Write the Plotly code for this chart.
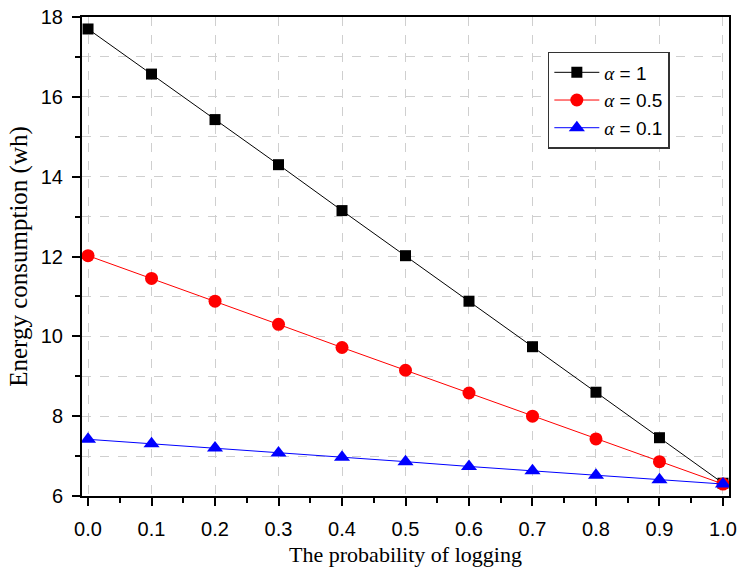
import plotly.graph_objects as go

prob = [0.0, 0.1, 0.2, 0.3, 0.4, 0.5, 0.6, 0.7, 0.8, 0.9, 1.0]
alpha_1 = [17.70, 16.57, 15.43, 14.30, 13.15, 12.02, 10.88, 9.74, 8.60, 7.46, 6.32]
alpha_05 = [12.02, 11.45, 10.88, 10.30, 9.72, 9.15, 8.58, 8.00, 7.43, 6.86, 6.30]
alpha_01 = [7.42, 7.31, 7.20, 7.08, 6.97, 6.86, 6.74, 6.63, 6.52, 6.41, 6.30]
x_ticks = [0.0, 0.1, 0.2, 0.3, 0.4, 0.5, 0.6, 0.7, 0.8, 0.9, 1.0]
x_tick_labels = ["0.0", "0.1", "0.2", "0.3", "0.4", "0.5", "0.6", "0.7", "0.8", "0.9", "1.0"]
series_labels = ["1", "0.5", "0.1"]


def legend_name(val):
    return ("<span style='font-family:Liberation Serif, serif'><i>α</i></span>"
            " = " + val)


fig = go.Figure()
fig.add_trace(go.Scatter(x=prob, y=alpha_1, mode="lines+markers", name=legend_name(series_labels[0]),
                         line=dict(color="black", width=1),
                         marker=dict(symbol="square", size=11, color="black")))
fig.add_trace(go.Scatter(x=prob, y=alpha_05, mode="lines+markers", name=legend_name(series_labels[1]),
                         line=dict(color="red", width=1),
                         marker=dict(symbol="circle", size=13, color="red")))
fig.add_trace(go.Scatter(x=prob, y=alpha_01, mode="lines+markers", name=legend_name(series_labels[2]),
                         line=dict(color="blue", width=1),
                         marker=dict(symbol="triangle-up", size=14, color="blue")))

fig.update_layout(
    width=749, height=573,
    margin=dict(l=82, r=20, t=17, b=77, autoexpand=False),
    plot_bgcolor="white", paper_bgcolor="white",
    font=dict(family="Liberation Sans, Arial", size=20, color="black"),
    legend=dict(x=0.72, y=0.927, xanchor="left", yanchor="top",
                bordercolor="#333", borderwidth=1.5, bgcolor="white",
                font=dict(family="Liberation Sans, Arial", size=19),
                tracegroupgap=0, itemwidth=45),
)
fig.update_xaxes(
    automargin=False,
    range=[-0.0095, 1.0095], tickvals=x_ticks, ticktext=x_tick_labels,
    showline=True, linecolor="black", linewidth=2, mirror=True,
    ticks="outside", ticklen=8, tickwidth=2, tickcolor="black", ticklabelstandoff=6,
    minor=dict(dtick=0.05, tick0=0.05, ticks="outside", ticklen=5, tickwidth=1.5, tickcolor="black", showgrid=False),
    showgrid=True, gridcolor="#cfcfcf", griddash="dash", gridwidth=1,
    zeroline=False,
    title=dict(text="The probability of logging", font=dict(family="Liberation Serif, serif", size=22), standoff=8),
)
fig.update_yaxes(
    automargin=False,
    range=[6, 18], dtick=2, tick0=6,
    showline=True, linecolor="black", linewidth=2, mirror=True,
    ticks="outside", ticklen=8, tickwidth=2, tickcolor="black", ticklabelstandoff=5,
    minor=dict(dtick=1, ticks="outside", ticklen=5, tickwidth=1.5, tickcolor="black",
               showgrid=True, gridcolor="#cfcfcf", griddash="dash", gridwidth=1),
    showgrid=True, gridcolor="#cfcfcf", griddash="dash", gridwidth=1,
    zeroline=False,
    title=dict(text="Energy consumption (wh)", font=dict(family="Liberation Serif, serif", size=25), standoff=6),
)

fig.write_html("out.html", config={"displayModeBar": False},
               post_script="document.body.style.margin='0';")
